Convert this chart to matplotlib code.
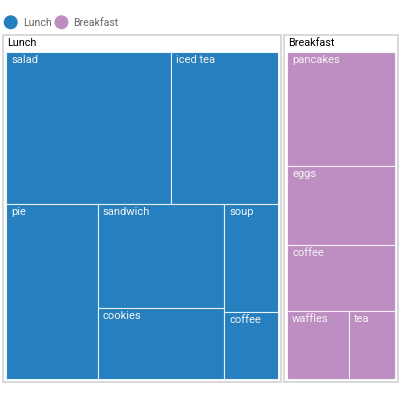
import matplotlib
matplotlib.use("Agg")
import matplotlib.pyplot as plt
from matplotlib.patches import Rectangle, Circle

# ---- data ----
groups = ["Lunch", "Breakfast"]
lunch_items = ["salad", "iced tea", "pie", "sandwich", "cookies", "soup", "coffee"]
lunch_values = [25.0, 16.2, 16.0, 13.1, 9.0, 5.8, 3.6]
breakfast_items = ["pancakes", "eggs", "coffee", "waffles", "tea"]
breakfast_values = [12.3, 8.5, 7.1, 4.2, 3.1]
group_colors = ["#2680c0", "#be8dc2"]

plt.rcParams['font.family'] = ['Roboto', 'DejaVu Sans']


def worst(row, length):
    s = sum(row)
    return max(max(length ** 2 * r / s ** 2, s ** 2 / (length ** 2 * r)) for r in row)


def squarify(values, x, y, w, h):
    total = sum(values)
    areas = [v * w * h / total for v in values]
    rects = []
    rem = list(areas)
    while rem:
        length = min(w, h)
        row = [rem[0]]
        i = 1
        while i < len(rem) and worst(row + [rem[i]], length) <= worst(row, length):
            row.append(rem[i])
            i += 1
        s = sum(row)
        if w >= h:
            cw = s / h
            yy = y
            for a in row:
                rh = a / cw
                rects.append((x, yy, cw, rh))
                yy += rh
            x += cw
            w -= cw
        else:
            rh = s / w
            xx = x
            for a in row:
                rw = a / rh
                rects.append((xx, y, rw, rh))
                xx += rw
            y += rh
            h -= rh
        rem = rem[i:]
    return rects


fig = plt.figure(figsize=(4, 4), dpi=100)
ax = fig.add_axes([0, 0, 1, 1])
ax.set_xlim(0, 400)
ax.set_ylim(400, 0)
ax.axis('off')

# layout constants (pixels)
left, top, right, bottom = 3, 35, 398, 382
gap, pad, header = 3, 3, 17

items_list = [lunch_items, breakfast_items]
values_list = [lunch_values, breakfast_values]
sums = [sum(v) for v in values_list]

inner_w = (right - left) - gap * (len(groups) - 1) - 2 * pad * len(groups)
inner_h = (bottom - top) - header - pad
top_rects = squarify(sums, 0, 0, inner_w, inner_h)

for gi, (gname, items, vals, col, tr) in enumerate(zip(groups, items_list, values_list, group_colors, top_rects)):
    gx = left + pad + tr[0] + gi * (gap + 2 * pad)
    gy = top + header + tr[1]
    gw, gh = tr[2], tr[3]
    # group box
    ax.add_patch(Rectangle((gx - pad, gy - header), gw + 2 * pad, gh + header + pad,
                           facecolor='white', edgecolor='#d6d6d6', linewidth=1.3, zorder=1))
    ax.text(gx + 1, gy - header / 2 - 0.5, gname, fontsize=7.8, color='black',
            va='center', ha='left', zorder=5)
    rects = squarify(vals, gx, gy, gw, gh)
    for name, (rx, ry, rw, rh) in zip(items, rects):
        ax.add_patch(Rectangle((rx, ry), rw, rh, facecolor=col,
                               edgecolor=(1, 1, 1, 0.8), linewidth=0.8, zorder=2))
        ax.text(rx + 5, ry + 3, name, fontsize=8, color='#f4f4f4',
                va='top', ha='left', zorder=5)

# legend
lx = 10.7
for gname, col in zip(groups, group_colors):
    ax.add_patch(Circle((lx, 22.3), 7, facecolor=col, edgecolor='none'))
    t = ax.text(lx + 12, 22.5, gname, fontsize=7.6, color='#666666', va='center', ha='left')
    fig.canvas.draw()
    bb = t.get_window_extent()
    tw = bb.width  # pixels == data units
    lx = lx + 12 + tw + 10

fig.savefig("out.png", dpi=100)
